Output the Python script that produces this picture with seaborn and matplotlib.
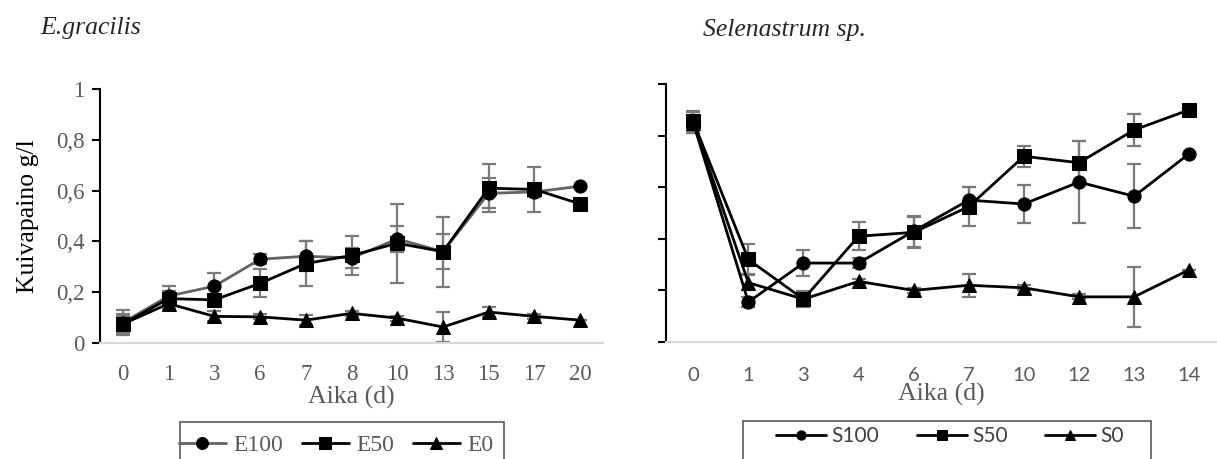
import matplotlib
matplotlib.use('Agg')
import matplotlib.pyplot as plt
import seaborn as sns
from matplotlib.patches import Rectangle

# ---- data ----
e_days = ['0', '1', '3', '6', '7', '8', '10', '13', '15', '17', '20']
e100 = [0.08, 0.185, 0.224, 0.33, 0.342, 0.335, 0.41, 0.36, 0.59, 0.595, 0.618]
e100_err = [0.05, 0.04, 0.05, 0.02, 0.06, 0.04, 0.05, 0.07, 0.06, 0.02, 0.0]
e50 = [0.075, 0.175, 0.17, 0.235, 0.313, 0.345, 0.393, 0.36, 0.61, 0.605, 0.548]
e50_err = [0.04, 0.03, 0.02, 0.055, 0.09, 0.076, 0.155, 0.138, 0.095, 0.089, 0.0]
e0 = [0.075, 0.155, 0.105, 0.103, 0.09, 0.117, 0.098, 0.063, 0.122, 0.105, 0.09]
e0_err = [0.03, 0.02, 0.02, 0.01, 0.02, 0.01, 0.01, 0.059, 0.02, 0.01, 0.0]

s_days = ['0', '1', '3', '4', '6', '7', '10', '12', '13', '14']
s100 = [0.85, 0.155, 0.306, 0.306, 0.43, 0.55, 0.535, 0.62, 0.565, 0.73]
s100_err = [0.04, 0.02, 0.05, 0.02, 0.06, 0.05, 0.075, 0.16, 0.125, 0.0]
s50 = [0.855, 0.32, 0.166, 0.41, 0.425, 0.525, 0.72, 0.695, 0.822, 0.9]
s50_err = [0.04, 0.058, 0.03, 0.054, 0.06, 0.077, 0.04, 0.084, 0.062, 0.0]
s0 = [0.85, 0.23, 0.166, 0.235, 0.20, 0.22, 0.21, 0.175, 0.175, 0.28]
s0_err = [0.04, 0.03, 0.02, 0.01, 0.01, 0.045, 0.01, 0.01, 0.116, 0.0]

y_ticks = [0, 0.2, 0.4, 0.6, 0.8, 1.0]
y_labels = ['0', '0,2', '0,4', '0,6', '0,8', '1']

sns.set_style('white')
plt.rcParams['font.family'] = ['Liberation Serif', 'DejaVu Serif']

fig = plt.figure(figsize=(12.17, 4.59), dpi=100)
ax1 = fig.add_axes([0.0822, 0.2527, 0.4133, 0.553])
ax2 = fig.add_axes([0.547, 0.2549, 0.4528, 0.562])

GRAY_LINE = '#636363'
ERR = '#7a7a7a'


def draw(ax, days, series):
    for name, vals, errs, color, marker in series:
        ax.errorbar(days, vals, yerr=errs, fmt='none', ecolor=ERR,
                    elinewidth=1.6, capsize=5, capthick=1.6, zorder=1)
        sns.lineplot(x=days, y=vals, ax=ax, sort=False, color=color,
                     marker=marker, markersize=9.5, markerfacecolor='black',
                     markeredgecolor='black', linewidth=2, label=name, zorder=3)
    ax.set_xlim(-0.5, len(days) - 0.5)
    ax.set_ylim(0, 1)
    ax.set_yticks(y_ticks)
    for s in ['top', 'right']:
        ax.spines[s].set_visible(False)
    ax.spines['left'].set_color('black')
    ax.spines['left'].set_linewidth(1.5)
    ax.spines['bottom'].set_color('#d9d9d9')
    ax.spines['bottom'].set_linewidth(1.5)
    ax.tick_params(axis='y', which='major', direction='out', length=6,
                   width=1.5, color='black', left=True, labelsize=16.5,
                   labelcolor='#595959', pad=5)
    handles, labels = ax.get_legend_handles_labels()
    ax.get_legend().remove()
    return handles, labels


h1, l1 = draw(ax1, e_days, [
    ('E100', e100, e100_err, GRAY_LINE, 'o'),
    ('E50', e50, e50_err, 'black', 's'),
    ('E0', e0, e0_err, 'black', '^'),
])
ax1.set_yticklabels(y_labels)
ax1.set_ylabel('Kuivapaino g/l', fontsize=18.5, color='black', labelpad=12)
ax1.tick_params(axis='x', length=0, labelsize=16.5, labelcolor='#595959', pad=15)
ax1.set_xlabel('Aika (d)', fontsize=18.5, color='#595959', labelpad=1)

h2, l2 = draw(ax2, s_days, [
    ('S100', s100, s100_err, 'black', 'o'),
    ('S50', s50, s50_err, 'black', 's'),
    ('S0', s0, s0_err, 'black', '^'),
])
ax2.set_yticklabels([])
ax2.set_ylabel('')
ax2.tick_params(axis='x', length=0, labelsize=14.5, labelcolor='#595959', pad=18)
for t in ax2.get_xticklabels():
    t.set_fontfamily('Lato')
ax2.set_xlabel('Aika (d)', fontsize=18.5, color='#595959', labelpad=-1)

# titles
fig.text(40 / 1217, 1 - 28 / 459, 'E.gracilis', fontsize=18.5, style='italic', va='center')
fig.text(703 / 1217, 1 - 30 / 459, 'Selenastrum sp.', fontsize=18.5, style='italic', va='center')

# legend frames
fig.patches.append(Rectangle((180 / 1217, -0.05), 324 / 1217, 0.05 + 1 - 422 / 459,
                             transform=fig.transFigure, fill=False,
                             edgecolor='#595959', linewidth=1.2))
fig.patches.append(Rectangle((743 / 1217, -0.05), 408 / 1217, 0.05 + 1 - 421 / 459,
                             transform=fig.transFigure, fill=False,
                             edgecolor='#595959', linewidth=1.2))

fig.legend(h1, l1, loc='center', bbox_to_anchor=(336 / 1217, 1 - 445 / 459),
           ncol=3, frameon=False, fontsize=17, handlelength=2.0,
           handletextpad=0.3, columnspacing=0.8, markerscale=0.9,
           labelcolor='#595959')
fig.legend(h2, l2, loc='center', bbox_to_anchor=(950 / 1217, 1 - 436 / 459),
           ncol=3, frameon=False, handlelength=2.4, handletextpad=0.25,
           columnspacing=1.8, markerscale=0.7,
           prop={'family': 'Lato', 'size': 15}, labelcolor='#404040')

fig.savefig('out.png', dpi=100)
